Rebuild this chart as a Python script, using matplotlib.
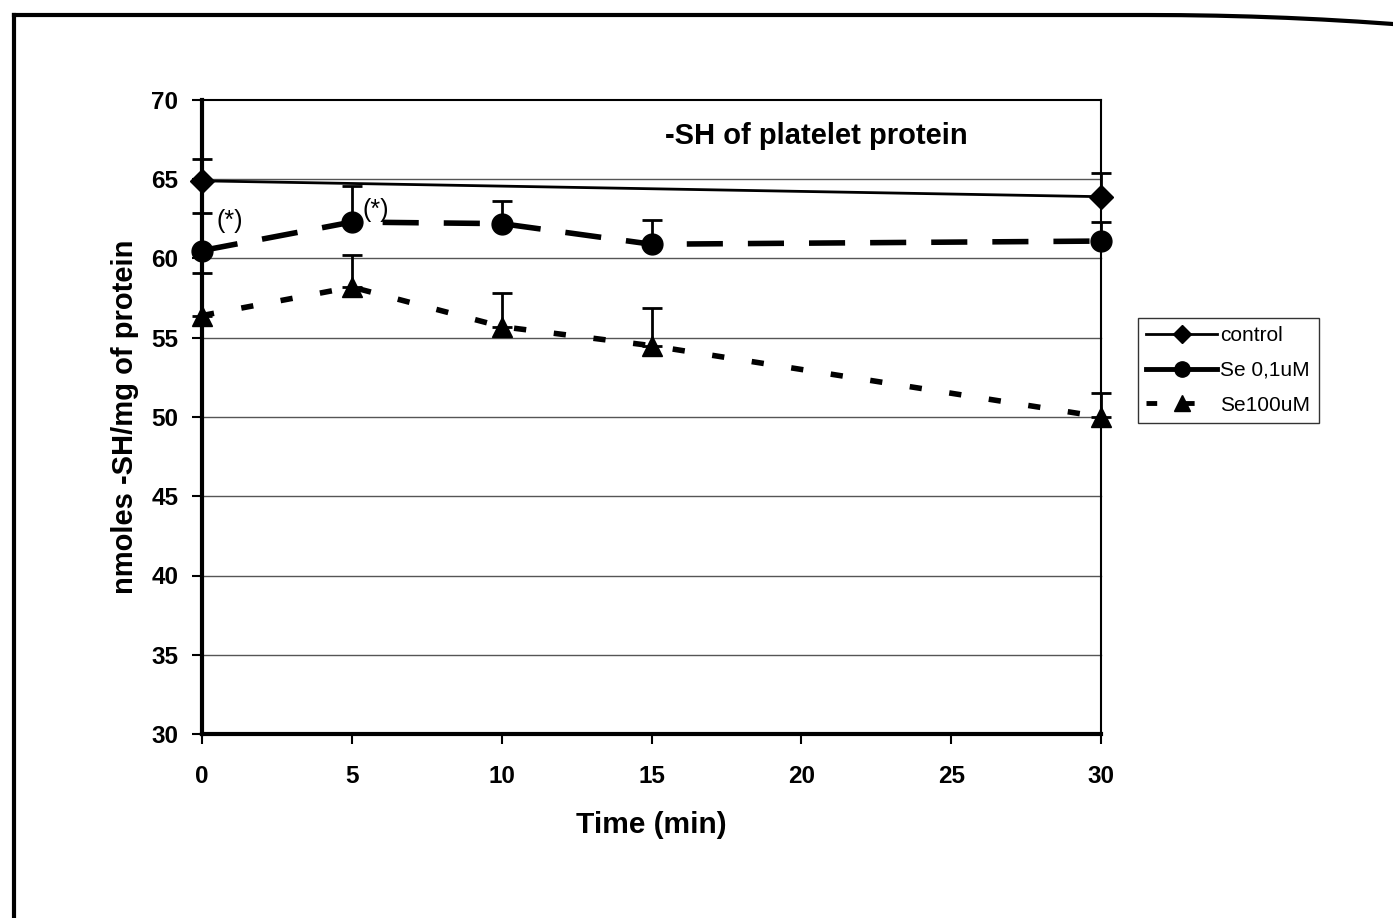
import numpy as np
import matplotlib.pyplot as plt
from matplotlib.lines import Line2D

plt.rcParams['font.family'] = ['Liberation Sans', 'DejaVu Sans']

# data (nmoles -SH / mg protein)
t_control = [0, 30]
control = [64.9, 63.9]
control_err = [1.4, 1.5]

t_se = [0, 5, 10, 15, 30]
se01 = [60.5, 62.3, 62.2, 60.9, 61.1]
se01_err = [2.4, 2.3, 1.4, 1.5, 1.2]
se100 = [56.4, 58.2, 55.7, 54.5, 50.0]
se100_err = [2.7, 2.0, 2.1, 2.4, 1.5]

labels = ['control', 'Se 0,1uM', 'Se100uM']
xticks = [0, 5, 10, 15, 20, 25, 30]
yticks = [30, 35, 40, 45, 50, 55, 60, 65, 70]

W, H = 1393, 918
fig = plt.figure(figsize=(W/100, H/100), dpi=100)
ax = fig.add_axes([202/W, 1-734/H, (1101-202)/W, (734-100)/H])

# frame of the scanned page (left and top edges only)
fig.lines.append(Line2D([14/W, 14/W], [0, 1-15/H], transform=fig.transFigure,
                        color='black', lw=3))
xs = np.linspace(14, 1393, 40)
ys = 15 + 9 * np.clip((xs - 1150) / 243, 0, None) ** 2
fig.lines.append(Line2D(xs/W, 1-ys/H, transform=fig.transFigure,
                        color='black', lw=3))

for y in yticks[1:-1]:
    ax.axhline(y, color='#555555', lw=1, zorder=1)

eb = dict(fmt='none', ecolor='black', elinewidth=2, capsize=7, capthick=2, zorder=3)
ax.errorbar(t_control, control, yerr=[np.zeros(2), control_err], **eb)
ax.errorbar(t_se, se01, yerr=[np.zeros(5), se01_err], **eb)
ax.errorbar(t_se, se100, yerr=[np.zeros(5), se100_err], **eb)

ax.plot(t_control, control, color='black', lw=2, marker='D', ms=12, zorder=4)
ax.plot(t_se, se01, color='black', lw=4, dashes=(6.5, 4.5), marker='o', ms=15, zorder=4)
ax.plot(t_se, se100, color='black', lw=4, dashes=(2.2, 5), marker='^', ms=15, zorder=4)

ax.text(0.5, 61.9, '(*)', fontsize=18, zorder=5)
ax.text(5.35, 62.6, '(*)', fontsize=18, zorder=5)
ax.text(20.5, 67.2, '-SH of platelet protein', fontsize=21, fontweight='bold', ha='center')

ax.set_xlim(0, 30)
ax.set_ylim(30, 70)
ax.set_xticks(xticks)
ax.set_yticks(yticks)
ax.tick_params(axis='both', labelsize=17.5, width=1.5, length=7, direction='out')
for lab in ax.get_xticklabels() + ax.get_yticklabels():
    lab.set_fontweight('bold')
ax.tick_params(axis='x', pad=15)
ax.tick_params(axis='y', pad=10)

ax.set_xlabel('Time (min)', fontsize=21.5, fontweight='bold', labelpad=17)
ax.set_ylabel('nmoles -SH/mg of protein', fontsize=21, fontweight='bold', labelpad=9)

ax.spines['left'].set_linewidth(3)
ax.spines['bottom'].set_linewidth(3)
ax.spines['top'].set_linewidth(1.5)
ax.spines['right'].set_linewidth(1.5)
for art in ax.lines + ax.collections:
    art.set_clip_on(False)

# legend keys drawn like the spreadsheet legend
handles = [
    Line2D([], [], color='black', lw=2, marker='D', ms=9),
    Line2D([], [], color='black', lw=3.5, marker='o', ms=11),
    Line2D([], [], color='black', lw=3.5, dashes=(2.2, 5.5), marker='^', ms=11),
]
leg = ax.legend(handles, labels, loc='upper left', bbox_to_anchor=(1138/W, 1-318/H),
                bbox_transform=fig.transFigure, fontsize=15, frameon=True,
                fancybox=False, edgecolor='black', handlelength=3.4,
                handletextpad=0.15, borderpad=0.4, labelspacing=0.75,
                borderaxespad=0)
leg.get_frame().set_linewidth(1)

fig.savefig('out.png', dpi=100)
